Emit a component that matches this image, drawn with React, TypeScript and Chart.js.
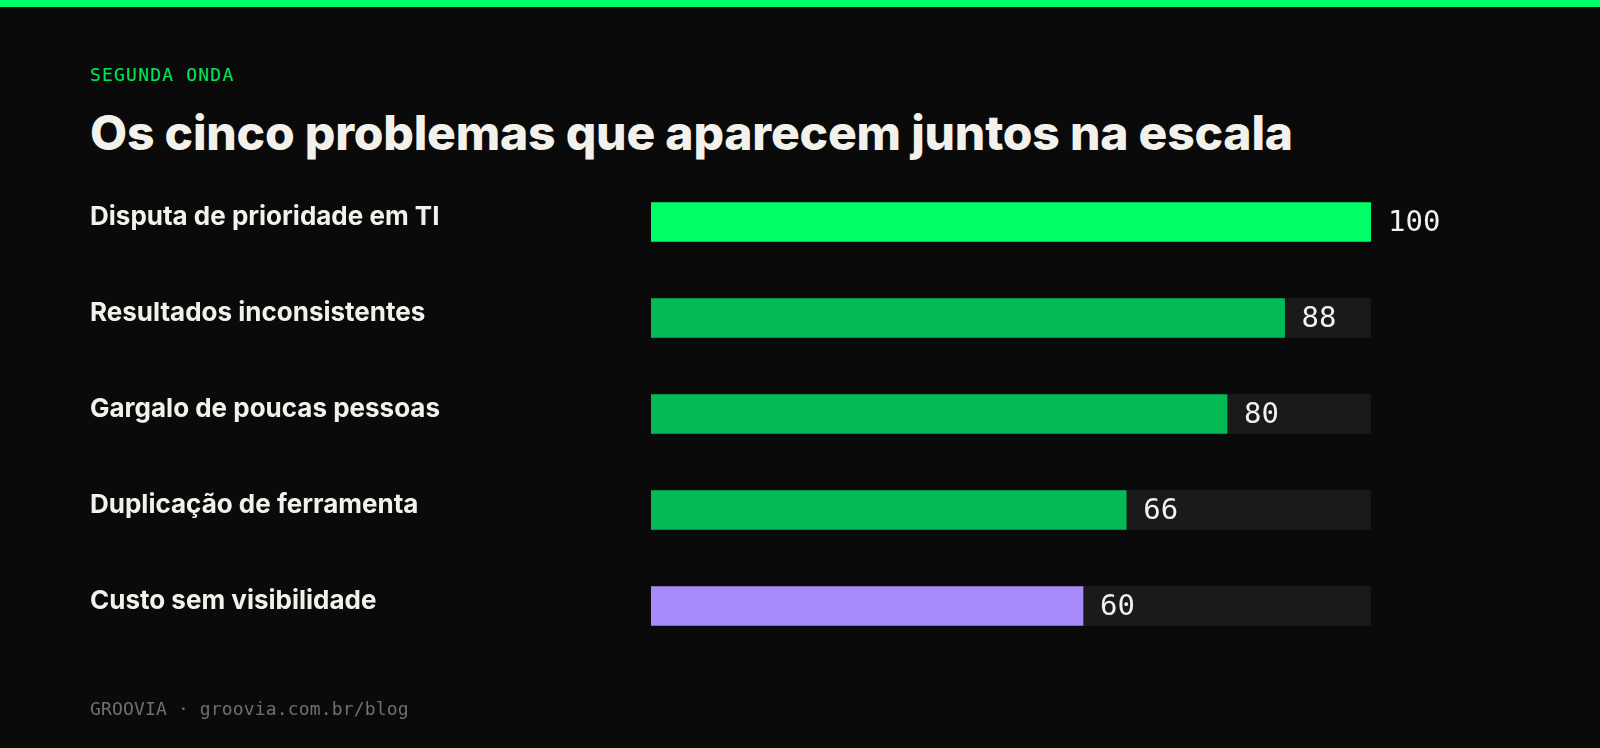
import { useEffect, useRef } from "react";
import { Chart, registerables } from "chart.js";

Chart.register(...registerables);

const problemas = [
  "Disputa de prioridade em TI",
  "Resultados inconsistentes",
  "Gargalo de poucas pessoas",
  "Duplicação de ferramenta",
  "Custo sem visibilidade",
];
const pontuacao = [100, 88, 80, 66, 60];
const trilha = [100, 100, 100, 100, 100];
const coresBarras = ["#00ff66", "#03bb55", "#03bb55", "#03bb55", "#a78bfa"];

const MONO = '"DejaVu Sans Mono", "Liberation Mono", monospace';
const SANS = 'Inter, "Noto Sans", sans-serif';

// escreve o número logo depois do fim de cada barra
const valoresPlugin = {
  id: "valores",
  afterDatasetsDraw(chart: any) {
    const { ctx } = chart;
    const meta = chart.getDatasetMeta(1);
    ctx.save();
    ctx.font = `500 29px ${MONO}`;
    ctx.fillStyle = "#f3f1ec";
    ctx.textAlign = "left";
    ctx.textBaseline = "middle";
    meta.data.forEach((bar: any, i: number) => {
      ctx.fillText(String(pontuacao[i]), bar.x + 17, bar.y + 1);
    });
    ctx.restore();
  },
};

export default function App() {
  const canvasRef = useRef<HTMLCanvasElement | null>(null);

  useEffect(() => {
    if (!canvasRef.current) return;

    const chart = new Chart(canvasRef.current.getContext("2d")!, {
      type: "bar",
      data: {
        labels: problemas,
        datasets: [
          {
            label: "trilha",
            data: trilha,
            backgroundColor: "#1a1a1a",
            grouped: false,
            order: 2,
            barThickness: 39,
          },
          {
            label: "pontuação",
            data: pontuacao,
            backgroundColor: coresBarras,
            grouped: false,
            order: 1,
            barThickness: 39,
          },
        ],
      },
      options: {
        indexAxis: "y",
        responsive: false,
        animation: false,
        events: [],
        layout: { padding: { left: 90, right: 229, top: 174, bottom: 94 } },
        plugins: {
          legend: { display: false },
          tooltip: { enabled: false },
        },
        scales: {
          x: { display: false, min: 0, max: 100 },
          y: {
            grid: { display: false },
            border: { display: false },
            afterFit: (scale: any) => {
              scale.width = 561;
            },
            ticks: {
              crossAlign: "far",
              labelOffset: -5,
              color: "#f3f1ec",
              font: { family: SANS, size: 26, weight: 700 },
            },
          },
        },
      },
      plugins: [valoresPlugin],
    });

    return () => chart.destroy();
  }, []);

  return (
    <div
      style={{
        position: "fixed",
        left: 0,
        top: 0,
        width: 1600,
        height: 748,
        background: "#0a0a0a",
        overflow: "hidden",
      }}
    >
      <div style={{ position: "absolute", left: 0, top: 0, width: 1600, height: 7, background: "#00ff66" }} />
      <div
        style={{
          position: "absolute",
          left: 90,
          top: 66,
          font: `500 18px/18px ${MONO}`,
          letterSpacing: "1.2px",
          color: "#00e65c",
        }}
      >
        SEGUNDA ONDA
      </div>
      <div
        style={{
          position: "absolute",
          left: 90,
          top: 109,
          font: `800 48px/48px ${SANS}`,
          letterSpacing: "-0.2px",
          color: "#f3f1ec",
          whiteSpace: "nowrap",
        }}
      >
        Os cinco problemas que aparecem juntos na escala
      </div>
      <canvas
        ref={canvasRef}
        width={1600}
        height={748}
        style={{ position: "absolute", left: 0, top: 0 }}
      />
      <div
        style={{
          position: "absolute",
          left: 90,
          top: 700,
          font: `18px/18px ${MONO}`,
          letterSpacing: "0.15px",
          color: "#707070",
          whiteSpace: "nowrap",
        }}
      >
        GROOVIA · groovia.com.br/blog
      </div>
    </div>
  );
}
